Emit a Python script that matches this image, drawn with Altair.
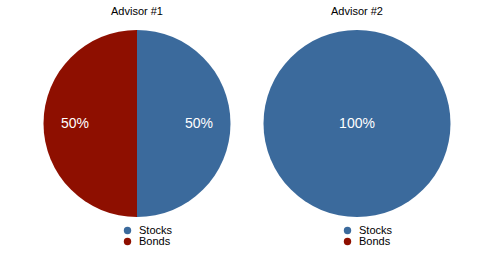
import altair as alt
import pandas as pd

advisors = ["Advisor #1", "Advisor #2"]
assets = ["Stocks", "Bonds"]
stocks_pct = [50, 100]
bonds_pct = [50, 0]
colors = ["#3b6a9c", "#8e0f00"]

rows = []
for i, adv in enumerate(advisors):
    rows.append({"advisor": adv, "asset": "Stocks", "ord": 0, "value": stocks_pct[i]})
    rows.append({"advisor": adv, "asset": "Bonds", "ord": 1, "value": bonds_pct[i]})
df = pd.DataFrame(rows)

FONT = "Liberation Sans"


def pie(adv):
    base = alt.Chart(df).transform_filter(alt.datum.advisor == adv)
    color = alt.Color(
        "asset:N",
        scale=alt.Scale(domain=assets, range=colors),
        legend=alt.Legend(
            title=None,
            orient="none",
            legendX=95,
            legendY=195,
            symbolType="circle",
            symbolSize=55,
            labelFontSize=11,
            labelFont=FONT,
            labelColor="#000",
            padding=0,
            rowPadding=-1,
            labelOffset=6,
            symbolStrokeWidth=0,
        ),
    )
    arc = base.mark_arc(radius=93.5).encode(
        theta=alt.Theta("value:Q", stack=True),
        order=alt.Order("ord:Q"),
        color=color,
    )
    txt = (
        base.transform_filter(alt.datum.value > 0)
        .transform_calculate(
            label="datum.value + '%'",
            lr="datum.value >= 100 ? 0 : 62",
        )
        .mark_text(color="white", fontSize=14, font=FONT)
        .encode(
            theta=alt.Theta("value:Q", stack=True),
            order=alt.Order("ord:Q"),
            radius=alt.Radius("lr:Q", scale=None),
            text="label:N",
        )
    )
    return (arc + txt).properties(
        width=220,
        height=187,
        title=alt.TitleParams(adv, fontSize=11, fontWeight="normal", font=FONT, color="#000", offset=13),
    )


chart = (
    alt.hconcat(pie(advisors[0]), pie(advisors[1]), spacing=0)
    .resolve_scale(color="independent")
    .properties(padding={"left": 27, "top": 6, "right": 0, "bottom": 0})
    .configure_view(stroke=None)
)

chart.save("out.html", embed_options={"renderer": "svg", "actions": False})
